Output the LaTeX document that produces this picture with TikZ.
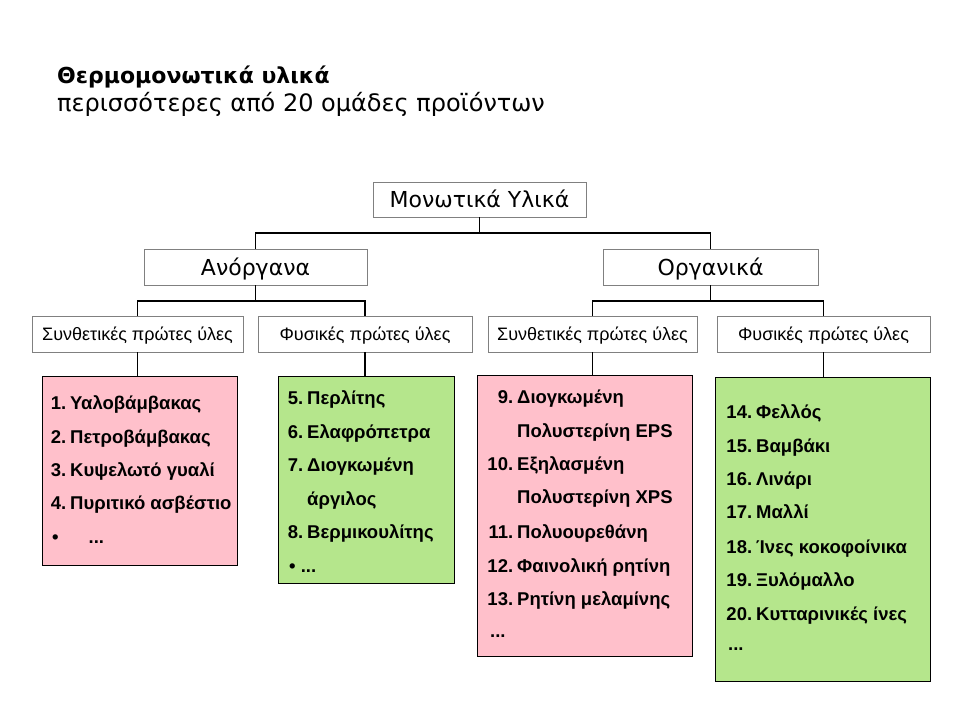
\documentclass[tikz,border=0pt]{standalone}
\usepackage{fontspec}
\setmainfont{Liberation Sans}
\newfontfamily\geo{DejaVu Sans}
\definecolor{pinkbox}{HTML}{FFC0CB}
\definecolor{greenbox}{HTML}{B5E68C}
\definecolor{hdrline}{HTML}{808080}
\newcommand{\num}[1]{\llap{#1\hspace{4pt}}}
\begin{document}
\begin{tikzpicture}[x=1pt,y=-1pt,
  hdr/.style={draw=hdrline,line width=0.8pt,rectangle,inner sep=0pt,text depth=0pt},
  big/.style={hdr,text height=16pt,font=\geo\fontsize{22}{24}\selectfont},
  small/.style={hdr,text height=13pt,font=\fontsize{18}{20}\selectfont},
  listbox/.style={draw=black,line width=1pt,rectangle,inner sep=0pt},
  item/.style={anchor=base west,inner sep=0pt,font=\bfseries\fontsize{18.5}{20}\selectfont},
  conn/.style={draw=black,line width=1.2pt}]
\useasboundingbox (0,0) rectangle (960,720);
\fill[white] (0,0) rectangle (960,720);
% title
\node[anchor=base west,inner sep=0pt,font=\geo\bfseries\fontsize{22}{24}\selectfont] (title) at (57,83) {Θερμομονωτικά υλικά};
\node[anchor=base west,inner sep=0pt,font=\geo\fontsize{24}{26}\selectfont] (subtitle) at (57,111) {περισσότερες από 20 ομάδες προϊόντων};
% header boxes
\node[big,minimum width=213pt,minimum height=35pt] (top) at (479.5,199.5) {Μονωτικά Υλικά};
\node[big,minimum width=223pt,minimum height=36pt] (anor) at (255.5,267) {Ανόργανα};
\node[big,minimum width=215pt,minimum height=36pt] (org) at (710.5,267) {Οργανικά};
\node[small,minimum width=211pt,minimum height=36pt] (ls) at (137.5,334) {Συνθετικές πρώτες ύλες};
\node[small,minimum width=214pt,minimum height=36pt] (lf) at (365,334) {Φυσικές πρώτες ύλες};
\node[small,minimum width=209pt,minimum height=36pt] (rs) at (592.5,334) {Συνθετικές πρώτες ύλες};
\node[small,minimum width=213pt,minimum height=36pt] (rf) at (823.5,334) {Φυσικές πρώτες ύλες};
% list boxes
\node[listbox,fill=pinkbox,minimum width=195pt,minimum height=189pt] (lp) at (139.5,470.5) {};
\node[listbox,fill=greenbox,minimum width=176pt,minimum height=207pt] (lg) at (366,479.5) {};
\node[listbox,fill=pinkbox,minimum width=215pt,minimum height=281pt] (rp) at (584.5,515.5) {};
\node[listbox,fill=greenbox,minimum width=215pt,minimum height=304pt] (rg) at (822.5,529) {};
% connectors
\coordinate (j1) at (0,233);
\coordinate (j2) at (0,301);
\draw[conn] (top.south) -- (top.south |- j1) -| (anor.north);
\draw[conn] (top.south |- j1) -| (org.north);
\draw[conn] (anor.south) -- (anor.south |- j2) -| (ls.north);
\draw[conn] (anor.south |- j2) -| (lf.north);
\draw[conn] (org.south) -- (org.south |- j2) -| (rs.north);
\draw[conn] (org.south |- j2) -| (rf.north);
\draw[conn] (ls.south) -- (ls.south |- lp.north);
\draw[conn] (lf.south) -- (lf.south |- lg.north);
\draw[conn] (rs.south) -- (rs.south |- rp.north);
\draw[conn] (rf.south) -- (rf.south |- rg.north);
% left pink items
\node[item] (a1) at (70,409) {\num{1.}Υαλοβάμβακας};
\node[item] (a2) at (70,443) {\num{2.}Πετροβάμβακας};
\node[item] (a3) at (70,476) {\num{3.}Κυψελωτό γυαλί};
\node[item] (a4) at (70,509) {\num{4.}Πυριτικό ασβέστιο};
\node[item] (a5) at (52,543) {•\hspace{30pt}...};
% left green items
\node[item] (b1) at (307,404) {\num{5.}Περλίτης};
\node[item] (b2) at (307,438) {\num{6.}Ελαφρόπετρα};
\node[item] (b3) at (307,471) {\num{7.}Διογκωμένη};
\node[item] (b4) at (307,505) {άργιλος};
\node[item] (b5) at (307,538) {\num{8.}Βερμικουλίτης};
\node[item] (b6) at (289,572) {• ...};
% right pink items
\node[item] (c1) at (517,403) {\num{9.}Διογκωμένη};
\node[item] (c2) at (517,437) {Πολυστερίνη EPS};
\node[item] (c3) at (517,470) {\num{10.}Εξηλασμένη};
\node[item] (c4) at (517,503) {Πολυστερίνη XPS};
\node[item] (c5) at (517,538) {\num{11.}Πολυουρεθάνη};
\node[item] (c6) at (517,572) {\num{12.}Φαινολική ρητίνη};
\node[item] (c7) at (517,605) {\num{13.}Ρητίνη μελαμίνης};
\node[item] (c8) at (490,637) {...};
% right green items
\node[item] (d1) at (756,418) {\num{14.}Φελλός};
\node[item] (d2) at (756,452) {\num{15.}Βαμβάκι};
\node[item] (d3) at (756,485) {\num{16.}Λινάρι};
\node[item] (d4) at (756,518) {\num{17.}Μαλλί};
\node[item] (d5) at (756,553) {\num{18.}Ίνες κοκοφοίνικα};
\node[item] (d6) at (756,586) {\num{19.}Ξυλόμαλλο};
\node[item] (d7) at (756,620) {\num{20.}Κυτταρινικές ίνες};
\node[item] (d8) at (728,650) {...};
\end{tikzpicture}
\end{document}
